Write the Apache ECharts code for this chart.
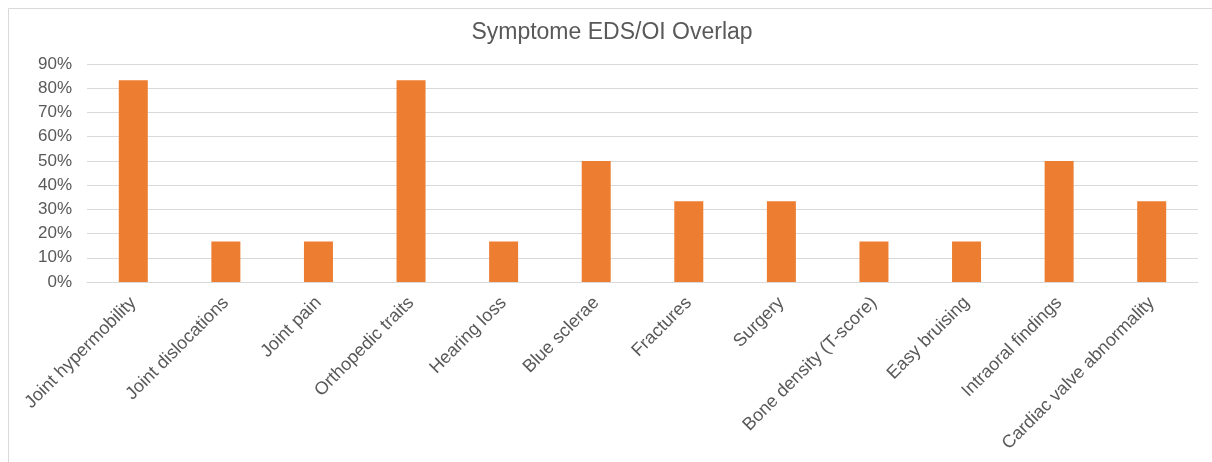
<!DOCTYPE html>
<html>
<head>
<meta charset="utf-8">
<script src="https://cdn.jsdelivr.net/npm/echarts@6/dist/echarts.min.js"></script>
<style>
  html, body { margin: 0; padding: 0; background: #fff; }
  #chart { width: 1212px; height: 462px; }
</style>
</head>
<body>
<div id="chart"></div>
<script>
// Symptom categories and share of cases (percent)
const categories = [
  'Joint hypermobility', 'Joint dislocations', 'Joint pain', 'Orthopedic traits',
  'Hearing loss', 'Blue sclerae', 'Fractures', 'Surgery',
  'Bone density (T-score)', 'Easy bruising', 'Intraoral findings', 'Cardiac valve abnormality'
];
const shares = [83.3, 16.7, 16.7, 83.3, 16.7, 50, 33.3, 33.3, 16.7, 16.7, 50, 33.3];
const chartTitle = 'Symptome EDS/OI Overlap';

const textColor = '#595959';
const fontFamily = '"Liberation Sans", Arial, Helvetica, sans-serif';

const chart = echarts.init(document.getElementById('chart'), null, { renderer: 'canvas' });
chart.setOption({
  animation: false,
  backgroundColor: '#fff',
  textStyle: { fontFamily: fontFamily },
  title: {
    text: chartTitle,
    left: 607,
    textAlign: 'center',
    top: 16,
    textStyle: { color: textColor, fontSize: 23, fontWeight: 'normal', fontFamily: fontFamily }
  },
  graphic: [{
    type: 'rect',
    shape: { x: 8.5, y: 8.5, width: 1230, height: 480 },
    style: { fill: 'none', stroke: '#D9D9D9', lineWidth: 1 },
    silent: true,
    z: -1
  }],
  grid: { left: 87, right: 14, top: 64, bottom: 180, containLabel: false },
  xAxis: {
    type: 'category',
    data: categories,
    axisTick: { show: false },
    axisLine: { show: true, lineStyle: { color: '#D9D9D9', width: 1 } },
    axisLabel: {
      rotate: 45,
      interval: 0,
      margin: 18,
      color: textColor,
      fontSize: 18,
      fontFamily: fontFamily
    }
  },
  yAxis: {
    type: 'value',
    min: 0,
    max: 90,
    interval: 10,
    axisLine: { show: false },
    axisTick: { show: false },
    splitLine: { lineStyle: { color: '#D9D9D9', width: 1 } },
    axisLabel: {
      formatter: '{value}%',
      color: textColor,
      fontSize: 17,
      margin: 15,
      fontFamily: fontFamily
    }
  },
  series: [{
    type: 'bar',
    data: shares,
    barWidth: 29,
    itemStyle: { color: '#ED7D31' }
  }]
});
</script>
</body>
</html>
